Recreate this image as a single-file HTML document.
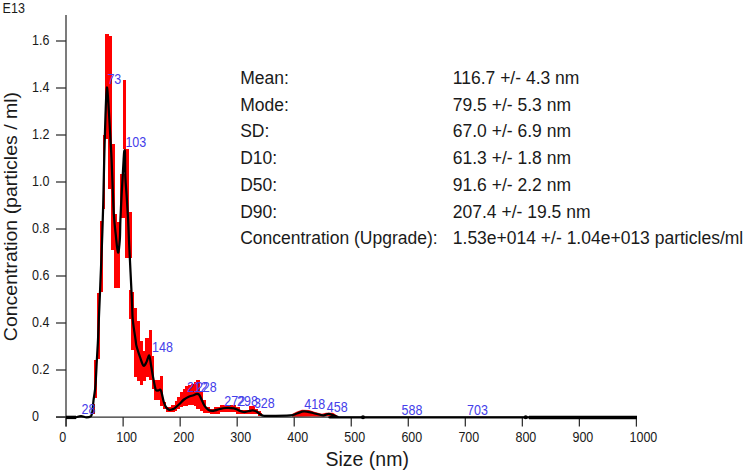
<!DOCTYPE html>
<html><head><meta charset="utf-8"><style>
html,body{margin:0;padding:0;background:#fff;}
body{width:749px;height:474px;position:relative;overflow:hidden;font-family:"Liberation Sans",sans-serif;color:#1a1a1a;}
.t{position:absolute;white-space:nowrap;line-height:1;}
.s{font-size:12.5px;transform-origin:0 0.8465em;transform:scaleY(1.1);}
.pl{font-size:12.5px;color:#4540ea;transform-origin:0 0.8465em;transform:scaleY(1.1);}
.st{font-size:17.5px;transform-origin:0 0.8465em;transform:scaleY(1.08);}
.ti{font-size:19.5px;transform-origin:0 0.8465em;transform:scaleY(1.03);}
</style></head><body>

<svg width="749" height="474" viewBox="0 0 749 474" style="position:absolute;left:0;top:0">
<g fill="#ff0000" shape-rendering="crispEdges"><rect x="105.1" y="34.3" width="3.5" height="104.7"/><rect x="108.2" y="35.5" width="4.1" height="153"/><rect x="102.6" y="135.2" width="2.6" height="73.8"/><rect x="111.3" y="144" width="3.7" height="106"/><rect x="114.3" y="214" width="2.7" height="74"/><rect x="116" y="222" width="3.8" height="18"/><rect x="114.5" y="240" width="5.9" height="48"/><rect x="99.7" y="221" width="2.8" height="71"/><rect x="96.8" y="293" width="3.1" height="66"/><rect x="94" y="360" width="2.8" height="38"/><rect x="92.2" y="404" width="2.8" height="10"/><rect x="122.9" y="79.8" width="3" height="69.2"/><rect x="119.9" y="173.8" width="5.4" height="43.9"/><rect x="125.4" y="149" width="3.1" height="109"/><rect x="128.3" y="211.7" width="3.3" height="46.3"/><rect x="129" y="290" width="3" height="28.5"/><rect x="131" y="292" width="3.3" height="58"/><rect x="134" y="308.4" width="3.1" height="68.2"/><rect x="137" y="320.6" width="3.3" height="60.4"/><rect x="140" y="340.6" width="3.2" height="44"/><rect x="143" y="351" width="2.6" height="30.4"/><rect x="145.4" y="338" width="3.3" height="39"/><rect x="148.5" y="329.5" width="3.4" height="50.5"/><rect x="151.5" y="355.5" width="2.5" height="33.5"/><rect x="154" y="380" width="5.8" height="19.8"/><rect x="159.8" y="376" width="3.2" height="29.6"/><rect x="163" y="402" width="3" height="7"/><rect x="165.8" y="407" width="4.9" height="4.8"/><rect x="170.7" y="405.2" width="3.8" height="6.6"/><rect x="174.5" y="400.5" width="2.8" height="10.4"/><rect x="177.3" y="396.7" width="2.9" height="11.8"/><rect x="180.2" y="392" width="2.8" height="15.1"/><rect x="183" y="388.6" width="2.4" height="17.1"/><rect x="185.4" y="386.2" width="2.4" height="19.5"/><rect x="187.8" y="385.3" width="2.8" height="19.4"/><rect x="190.6" y="384.3" width="2.9" height="20.4"/><rect x="193.5" y="381.5" width="2.8" height="24.2"/><rect x="196.3" y="380.1" width="3.8" height="28.4"/><rect x="200.1" y="391" width="2.9" height="19.9"/><rect x="203" y="399.5" width="2.8" height="13.3"/><rect x="205.8" y="407.1" width="3.8" height="5.7"/><rect x="209.6" y="408.8" width="4.4" height="5.2"/><rect x="214" y="406.8" width="5.6" height="7.2"/><rect x="219.6" y="405.2" width="4" height="7.2"/><rect x="223.6" y="404.8" width="12.8" height="7.6"/><rect x="236.4" y="407.2" width="3.2" height="6.4"/><rect x="239.6" y="409.5" width="8.9" height="4.1"/><rect x="248.5" y="406.4" width="6.4" height="8"/><rect x="254.9" y="408.8" width="3.1" height="5.6"/><rect x="258" y="410.8" width="2.5" height="4.8"/><rect x="260.5" y="412.5" width="1" height="3.1"/></g><g fill="#ff0000"><polygon points="292,414 297,411.5 302,409.7 309,410 315,412 322,413.8 326,412.7 333,412.8 337,415.5 338,417.5 330,416 322,416.8 312,416.5 300,416.8 292,416.8"/></g>
<g stroke="#2e2e2e" stroke-width="1.25" fill="none">
<line x1="66" y1="15" x2="66" y2="426.6"/>
<line x1="56" y1="417" x2="637" y2="417"/>
<line x1="56" y1="417" x2="66" y2="417"/>
<line x1="56" y1="370" x2="66" y2="370"/>
<line x1="56" y1="323" x2="66" y2="323"/>
<line x1="56" y1="276" x2="66" y2="276"/>
<line x1="56" y1="229" x2="66" y2="229"/>
<line x1="56" y1="182" x2="66" y2="182"/>
<line x1="56" y1="135" x2="66" y2="135"/>
<line x1="56" y1="88" x2="66" y2="88"/>
<line x1="56" y1="41" x2="66" y2="41"/>
<line x1="66.1" y1="417" x2="66.1" y2="426.6"/>
<line x1="123.13" y1="417" x2="123.13" y2="426.6"/>
<line x1="180.16" y1="417" x2="180.16" y2="426.6"/>
<line x1="237.19" y1="417" x2="237.19" y2="426.6"/>
<line x1="294.22" y1="417" x2="294.22" y2="426.6"/>
<line x1="351.25" y1="417" x2="351.25" y2="426.6"/>
<line x1="408.28" y1="417" x2="408.28" y2="426.6"/>
<line x1="465.31" y1="417" x2="465.31" y2="426.6"/>
<line x1="522.34" y1="417" x2="522.34" y2="426.6"/>
<line x1="579.37" y1="417" x2="579.37" y2="426.6"/>
<line x1="636.4" y1="417" x2="636.4" y2="426.6"/>
</g>
<path fill="none" stroke="#000" stroke-width="2.25" stroke-linejoin="round" stroke-linecap="round" d="M76,417.3 C76.85,417.1 79.37,416.08 81.1,416.1 C82.83,416.12 84.8,417.35 86.4,417.4 C88,417.45 89.8,416.97 90.7,416.4 C91.6,415.83 91.5,414.9 91.8,414 C92.1,413.1 92.22,413.28 92.5,411 C92.78,408.72 93.2,402.97 93.5,400.3 C93.8,397.63 93.97,397.55 94.3,395 C94.63,392.45 95.08,390.67 95.5,385 C95.92,379.33 96.38,368.5 96.8,361 C97.22,353.5 97.67,346.83 98,340 C98.33,333.17 98.42,329.17 98.8,320 C99.18,310.83 99.78,297.5 100.3,285 C100.82,272.5 101.42,258.33 101.9,245 C102.38,231.67 102.82,219.17 103.2,205 C103.58,190.83 103.82,175 104.2,160 C104.58,145 105.05,127.08 105.5,115 C105.95,102.92 106.35,88.33 106.9,87.5 C107.45,86.67 108.2,101.25 108.8,110 C109.4,118.75 110.03,131.67 110.5,140 C110.97,148.33 111.25,152.5 111.6,160 C111.95,167.5 112.22,175.83 112.6,185 C112.98,194.17 113.37,206.67 113.9,215 C114.43,223.33 115.12,228.75 115.8,235 C116.48,241.25 117.33,251.67 118,252.5 C118.67,253.33 119.4,245.42 119.8,240 C120.2,234.58 120.1,227.5 120.4,220 C120.7,212.5 121.23,202 121.6,195 C121.97,188 122.27,183.83 122.6,178 C122.93,172.17 123.33,164.42 123.6,160 C123.87,155.58 123.98,152.97 124.2,151.5 C124.42,150.03 124.75,149.78 124.9,151.2 C125.05,152.62 125.02,155.53 125.1,160 C125.18,164.47 125.15,172.17 125.4,178 C125.65,183.83 126.15,188 126.6,195 C127.05,202 127.67,211.67 128.1,220 C128.53,228.33 128.57,231.67 129.2,245 C129.83,258.33 131.3,287.5 131.9,300 C132.5,312.5 132.18,313.33 132.8,320 C133.42,326.67 134.98,335.67 135.6,340 C136.22,344.33 135.77,343.17 136.5,346 C137.23,348.83 138.85,353.73 140,357 C141.15,360.27 142.32,364.77 143.4,365.6 C144.48,366.43 145.53,363.68 146.5,362 C147.47,360.32 148.45,355 149.2,355.5 C149.95,356 150.37,361.48 151,365 C151.63,368.52 152.23,372.55 153,376.6 C153.77,380.65 154.77,386.98 155.6,389.3 C156.43,391.62 157.12,390.32 158,390.5 C158.88,390.68 159.93,388.48 160.9,390.4 C161.87,392.32 162.9,399.15 163.8,402 C164.7,404.85 165.38,406.2 166.3,407.5 C167.22,408.8 168.3,409.5 169.3,409.8 C170.3,410.1 171.43,409.55 172.3,409.3 C173.17,409.05 173.35,409.13 174.5,408.3 C175.65,407.47 177.62,405.77 179.2,404.3 C180.78,402.83 182.42,400.77 184,399.5 C185.58,398.23 187.12,397.42 188.7,396.7 C190.28,395.98 192.15,395.68 193.5,395.2 C194.85,394.72 195.85,393.87 196.8,393.8 C197.75,393.73 198.33,393.68 199.2,394.8 C200.07,395.92 201.07,398.6 202,400.5 C202.93,402.4 203.7,404.62 204.8,406.2 C205.9,407.78 207.33,409.22 208.6,410 C209.87,410.78 211.33,410.83 212.4,410.9 C213.47,410.97 213.67,410.75 215,410.4 C216.33,410.05 218.57,409.2 220.4,408.8 C222.23,408.4 223.73,408.07 226,408 C228.27,407.93 231.87,408 234,408.4 C236.13,408.8 237.18,409.8 238.8,410.4 C240.42,411 242.08,411.87 243.7,412 C245.32,412.13 247.03,411.47 248.5,411.2 C249.97,410.93 251.17,410.33 252.5,410.4 C253.83,410.47 255.3,411 256.5,411.6 C257.7,412.2 258.63,413.33 259.7,414 C260.77,414.67 261.65,415.28 262.9,415.6 C264.15,415.92 262.68,415.93 267.2,415.9 C271.72,415.87 285.03,415.8 290,415.4 C294.97,415 294.67,414.17 297,413.5 C299.33,412.83 301.33,411.48 304,411.4 C306.67,411.32 309.78,412.33 313,413 C316.22,413.67 320.65,415.27 323.3,415.4 C325.95,415.53 326.5,413.57 328.9,413.8 C331.3,414.03 335.02,416.22 337.7,416.8 C340.38,417.38 313.12,417.22 345,417.3 C376.88,417.38 498.33,417.3 529,417.3"/>
<line x1="66" y1="417.4" x2="76" y2="417.4" stroke="#000" stroke-width="3.4"/>
<line x1="529" y1="417.5" x2="637" y2="417.5" stroke="#000" stroke-width="3.6"/>
<circle cx="363" cy="417.3" r="2" fill="#000"/>
<circle cx="525.7" cy="417.3" r="2" fill="#000"/>
</svg>
<div class="t s" style="left:2.6px;top:3.32px">E13</div>
<div class="t s" style="left:32px;top:411.22px">0</div>
<div class="t s" style="left:32px;top:364.22px">0.2</div>
<div class="t s" style="left:32px;top:317.22px">0.4</div>
<div class="t s" style="left:32px;top:270.22px">0.6</div>
<div class="t s" style="left:32px;top:223.22px">0.8</div>
<div class="t s" style="left:32px;top:176.22px">1.0</div>
<div class="t s" style="left:32px;top:129.22px">1.2</div>
<div class="t s" style="left:32px;top:82.22px">1.4</div>
<div class="t s" style="left:32px;top:35.22px">1.6</div>
<div class="t s" style="left:59.2px;top:432.02px">0</div>
<div class="t s" style="left:116.23px;top:432.02px">100</div>
<div class="t s" style="left:173.26px;top:432.02px">200</div>
<div class="t s" style="left:230.29px;top:432.02px">300</div>
<div class="t s" style="left:287.32px;top:432.02px">400</div>
<div class="t s" style="left:344.35px;top:432.02px">500</div>
<div class="t s" style="left:401.38px;top:432.02px">600</div>
<div class="t s" style="left:458.41px;top:432.02px">700</div>
<div class="t s" style="left:515.44px;top:432.02px">800</div>
<div class="t s" style="left:572.47px;top:432.02px">900</div>
<div class="t s" style="left:629.5px;top:432.02px">1000</div>
<div class="t pl" style="left:81.5px;top:403.92px">28</div>
<div class="t pl" style="left:107.4px;top:73.82px">73</div>
<div class="t pl" style="left:125.4px;top:136.82px">103</div>
<div class="t pl" style="left:152px;top:342.22px">148</div>
<div class="t pl" style="left:186.9px;top:382.22px">212</div>
<div class="t pl" style="left:195.9px;top:382.22px">228</div>
<div class="t pl" style="left:224.3px;top:395.72px">272</div>
<div class="t pl" style="left:237.1px;top:395.72px">298</div>
<div class="t pl" style="left:253.9px;top:397.92px">328</div>
<div class="t pl" style="left:304.3px;top:399.12px">418</div>
<div class="t pl" style="left:326.8px;top:402.12px">458</div>
<div class="t pl" style="left:401.6px;top:404.72px">588</div>
<div class="t pl" style="left:467.1px;top:404.72px">703</div>
<div class="t st" style="left:240.2px;top:70.09px">Mean:</div>
<div class="t st" style="left:452.8px;top:70.09px">116.7 +/- 4.3 nm</div>
<div class="t st" style="left:240.2px;top:96.79px">Mode:</div>
<div class="t st" style="left:452.8px;top:96.79px">79.5 +/- 5.3 nm</div>
<div class="t st" style="left:240.2px;top:123.49px">SD:</div>
<div class="t st" style="left:452.8px;top:123.49px">67.0 +/- 6.9 nm</div>
<div class="t st" style="left:240.2px;top:150.19px">D10:</div>
<div class="t st" style="left:452.8px;top:150.19px">61.3 +/- 1.8 nm</div>
<div class="t st" style="left:240.2px;top:176.89px">D50:</div>
<div class="t st" style="left:452.8px;top:176.89px">91.6 +/- 2.2 nm</div>
<div class="t st" style="left:240.2px;top:203.59px">D90:</div>
<div class="t st" style="left:452.8px;top:203.59px">207.4 +/- 19.5 nm</div>
<div class="t st" style="left:240.2px;top:230.29px">Concentration (Upgrade):</div>
<div class="t st" style="left:452.8px;top:230.29px">1.53e+014 +/- 1.04e+013 particles/ml</div>
<div class="t ti" style="left:325.5px;top:450.29px">Size (nm)</div>
<div class="t ti" style="left:0;top:0;transform-origin:0 0;transform:translate(1.9px,341.2px) rotate(-90deg) scaleY(0.94);">Concentration (particles / ml)</div>
</body></html>
